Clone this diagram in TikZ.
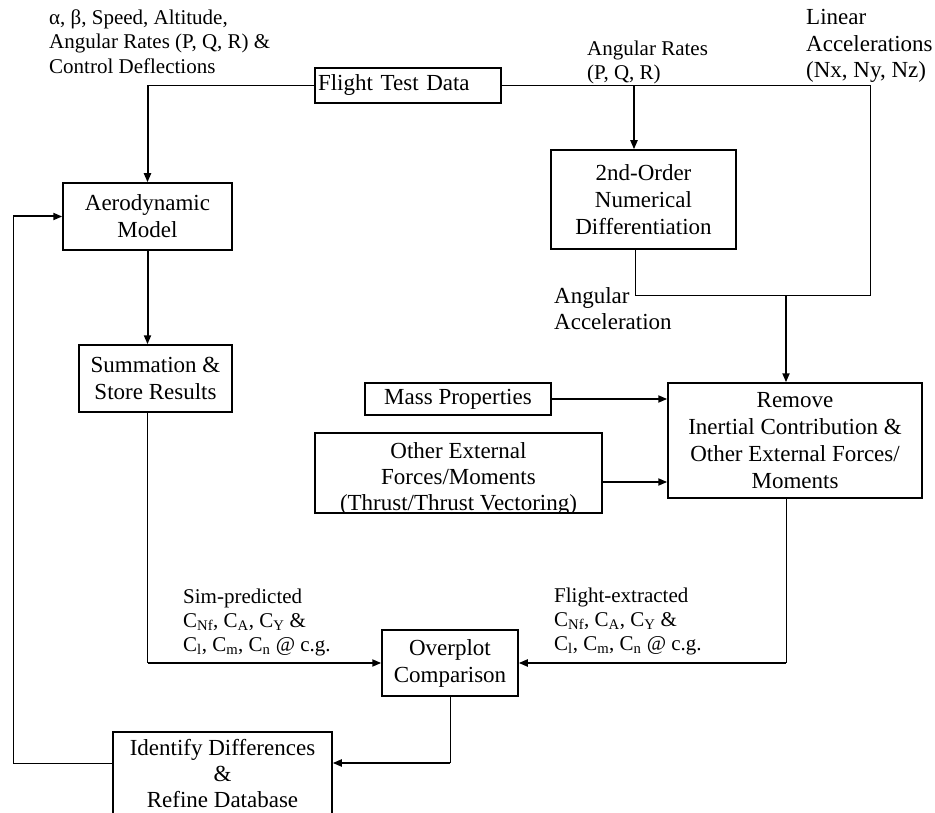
\documentclass[tikz,border=0pt]{standalone}
\usepackage{fontspec}
\setmainfont{Liberation Serif}
\usetikzlibrary{arrows.meta,calc}
\tikzset{
  box/.style={draw, line width=1.5pt, inner sep=0pt, align=center, font=\fontsize{23}{27}\selectfont},
  boxtext/.style={inner sep=0pt, align=center, font=\fontsize{23}{26}\selectfont},
  lbl/.style={inner sep=0pt, align=left, font=\fontsize{21}{24.5}\selectfont},
  biglbl/.style={inner sep=0pt, align=left, font=\fontsize{23}{26.5}\selectfont},
  thinln/.style={line width=1pt},
  arr/.style={line width=2pt, -{Triangle[length=9pt,width=7pt]}},
}
\begin{document}
\begin{tikzpicture}[x=1pt,y=-1pt]
\useasboundingbox (0,0) rectangle (935,813);
\fill[white] (0,0) rectangle (935,813);

% boxes
\node[box, minimum width=186pt, minimum height=35pt, text width=180pt, align=left] (ftd) at (408,85.5) {Flight Test Data};
\node[box, minimum width=169pt, minimum height=67pt] (aero) at (147.5,216.5) {Aerodynamic\\Model};
\node[box, minimum width=153pt, minimum height=67pt] (summ) at (155.5,378.5) {Summation \&\\Store Results};
\node[box, minimum width=185pt, minimum height=99pt] (diff) at (643.5,199.5) {2nd-Order\\Numerical\\Differentiation};
\node[box, minimum width=186pt, minimum height=32pt] (mass) at (458,399) {Mass Properties};
\begin{scope}
  \clip (315,433) rectangle (602,513.5);
  \node[boxtext] (othertext) at (458.5,479.5) {Other External\\Forces/Moments\\(Thrust/Thrust Vectoring)};
\end{scope}
\node[box, minimum width=287pt, minimum height=80pt] (other) at (458.5,473) {};
\node[box, minimum width=254pt, minimum height=115pt] (remove) at (795,440.5) {Remove\\Inertial Contribution \&\\Other External Forces/\\Moments};
\node[box, minimum width=136pt, minimum height=66pt] (ovp) at (450,663) {Overplot\\Comparison};
\node[box, anchor=north, minimum width=219pt, inner ysep=8pt, font=\fontsize{23}{26}\selectfont] (idf) at (222.5,731) {Identify Differences\\\&\\Refine Database};

% labels
\node[lbl, anchor=north west] (lin) at (49,9.5) {α, β, Speed, Altitude,\\Angular Rates (P, Q, R) \&\\Control Deflections};
\node[lbl, anchor=north west] (lrates) at (587,40.7) {Angular Rates\\(P, Q, R)};
\node[biglbl, anchor=north west] (llin) at (806,9.3) {Linear\\Accelerations\\(Nx, Ny, Nz)};
\node[biglbl, anchor=north west] (lang) at (554,287) {Angular\\Acceleration};
\node[lbl, anchor=north west, font=\fontsize{21}{24}\selectfont] (lsim) at (183,588.7) {Sim-predicted\\C\textsubscript{Nf}, C\textsubscript{A}, C\textsubscript{Y} \&\\C\textsubscript{l}, C\textsubscript{m}, C\textsubscript{n} @ c.g.};
\node[lbl, anchor=north west, font=\fontsize{21}{24}\selectfont] (lflt) at (554,587.7) {Flight-extracted\\C\textsubscript{Nf}, C\textsubscript{A}, C\textsubscript{Y} \&\\C\textsubscript{l}, C\textsubscript{m}, C\textsubscript{n} @ c.g.};

% junction coordinates
\coordinate (jA) at (147.5,85.5);
\coordinate (jAR) at (634,85.5);
\coordinate (jR) at (870,85.5);
\coordinate (jR2) at (870,296);
\coordinate (jD) at (635,296);
\coordinate (jM) at (786,296);
\coordinate (oOut) at (602,482);
\coordinate (sB) at (147.5,663);
\coordinate (rB) at (786,663);
\coordinate (oB) at (451,763);
\coordinate (fb1) at (13,763);
\coordinate (fb2) at (13,216.5);

% connectors
\draw[thinln] (ftd.west) -- (jA);
\draw[arr] (jA) -- (aero.north);
\draw[thinln] (ftd.east) -- (jR) -- (jR2) -- (jD) -- (jD |- diff.south);
\draw[arr] (jAR) -- (jAR |- diff.north);
\draw[arr] (jM) -- (jM |- remove.north);
\draw[arr] (mass.east) -- (mass.east -| remove.west);
\draw[arr] (other.east |- oOut) -- (remove.west |- oOut);
\draw[arr] (aero.south) -- (aero.south |- summ.north);
\draw[thinln] (aero.south |- summ.south) -- (sB);
\draw[arr] (sB) -- (ovp.west);
\draw[thinln] (jM |- remove.south) -- (rB);
\draw[arr] (rB) -- (ovp.east);
\draw[thinln] (ovp.south) -- (ovp.south |- oB);
\draw[arr] (ovp.south |- oB) -- (idf.east |- oB);
\draw[thinln] (idf.west |- fb1) -- (fb1) -- (fb2);
\draw[arr] (fb2) -- (aero.west);
\end{tikzpicture}
\end{document}
